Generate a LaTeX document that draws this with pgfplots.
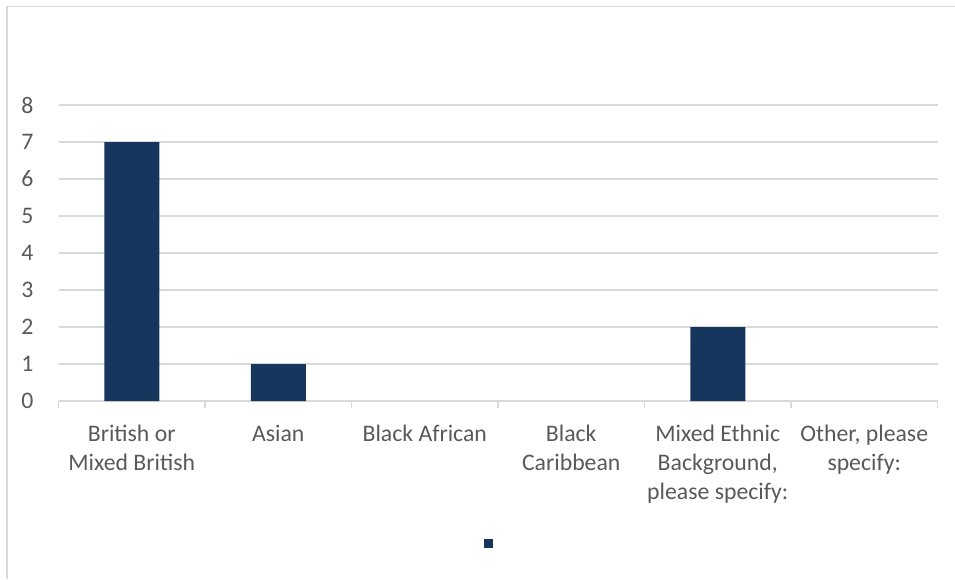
\documentclass[border=0pt]{standalone}
\usepackage{pgfplots}
\pgfplotsset{compat=1.18}
\usepackage{fontspec}
\setmainfont{Carlito}
\definecolor{barblue}{RGB}{23,54,93}
\definecolor{gridgray}{RGB}{217,217,217}
\definecolor{textgray}{RGB}{89,89,89}
\begin{document}
\begin{tikzpicture}
\path[use as bounding box] (0,0) rectangle (716.25pt,434.25pt);
\draw[gridgray, line width=1pt] (5.25pt,0) -- (5.25pt,429.4pt) -- (716.25pt,429.4pt);
\begin{axis}[
  at={(43.875pt,133.5pt)}, anchor=south west,
  scale only axis, width=659.25pt, height=222pt,
  ybar, bar width=41.25pt,
  xmin=-0.5, xmax=5.5, ymin=0, ymax=8,
  ytick={0,1,...,8},
  xtick={0,...,5},
  xticklabels={{British or\\Mixed British},{Asian},{Black African},{Black\\Caribbean},{Mixed Ethnic\\Background,\\please specify:},{Other, please\\specify:}},
  minor xtick={-0.5,0.5,...,5.5},
  major x tick style={draw=none},
  minor x tick style={gridgray, line width=1pt},
  minor tick length=5.25pt,
  tick align=outside,
  axis x line*=bottom,
  axis y line*=left,
  y axis line style={draw=none},
  major y tick style={draw=none},
  x axis line style={gridgray, line width=1pt, -},
  ymajorgrids, grid style={gridgray, line width=1pt},
  /pgf/number format/assume math mode=true,
  tick label style={font=\fontsize{17.8}{21.75}\selectfont, text=textgray},
  xticklabel style={align=center, anchor=north, yshift=-10.5pt},
  yticklabel style={xshift=-11pt},
  legend style={at={(0.4898,-0.483)}, anchor=center, draw=none, fill=none, inner sep=0pt, nodes={inner sep=0pt}},
  legend image code/.code={\fill[barblue] (0pt,-3.375pt) rectangle (6.75pt,3.375pt);},
]
\addplot[fill=barblue, draw=none, y filter/.expression={y==0 ? nan : y}] coordinates {(0,7) (1,1) (2,0) (3,0) (4,2) (5,0)};
\addlegendentry{}
\end{axis}
\end{tikzpicture}
\end{document}
